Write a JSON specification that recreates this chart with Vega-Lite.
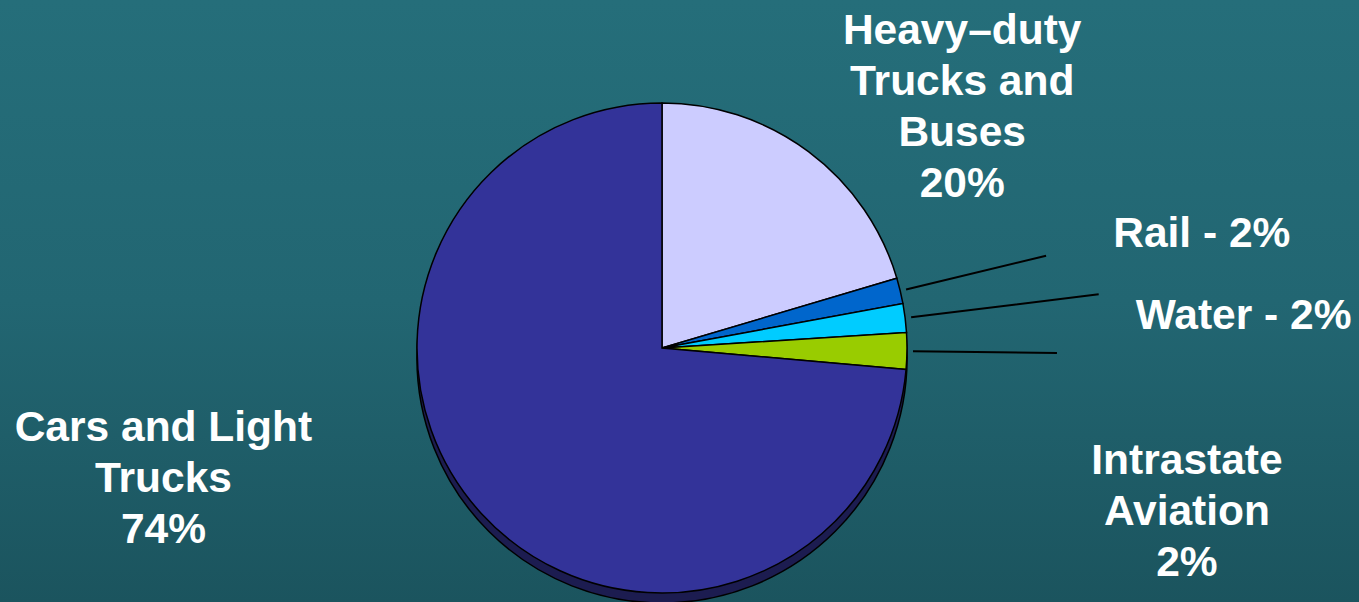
{
  "$schema": "https://vega.github.io/schema/vega-lite/v6.json",
  "width": 1359,
  "height": 602,
  "autosize": {"type": "none"},
  "padding": 0,
  "background": "#21646F",
  "view": {
    "stroke": null,
    "fill": {"gradient": "linear", "x1": 0, "y1": 0, "x2": 0, "y2": 1,
      "stops": [{"offset": 0, "color": "#256E7A"}, {"offset": 0.5, "color": "#226672"}, {"offset": 1, "color": "#1B545E"}]}
  },
  "config": {
    "text": {"font": "Liberation Sans", "fontWeight": "bold", "fontSize": 42.5, "fill": "#FFFFFF", "lineHeight": 51, "align": "center", "baseline": "middle", "lineBreak": "\n"}
  },
  "data": {
    "values": [
      {"cat": "Heavy-duty Trucks and Buses", "ord": 1, "value": 20.4, "label": "Heavy–duty\nTrucks and\nBuses\n20%"},
      {"cat": "Rail", "ord": 2, "value": 1.7, "label": "Rail - 2%"},
      {"cat": "Water", "ord": 3, "value": 1.9, "label": "Water - 2%"},
      {"cat": "Intrastate Aviation", "ord": 4, "value": 2.4, "label": "Intrastate\nAviation\n2%"},
      {"cat": "Cars and Light Trucks", "ord": 5, "value": 73.6, "label": "Cars and Light\nTrucks\n74%"}
    ]
  },
  "layer": [
    {
      "transform": [{"aggregate": [{"op": "sum", "field": "value", "as": "value"}]}],
      "mark": {"type": "arc", "outerRadius": 245, "fill": "#1C1C50", "stroke": "#000000", "strokeWidth": 1.5, "xOffset": -17.5, "yOffset": 57},
      "encoding": {"theta": {"field": "value", "type": "quantitative", "stack": true}}
    },
    {
      "mark": {"type": "arc", "outerRadius": 245, "stroke": "#000000", "strokeWidth": 1.5, "xOffset": -17.5, "yOffset": 47},
      "encoding": {
        "theta": {"field": "value", "type": "quantitative", "stack": true},
        "order": {"field": "ord", "type": "quantitative"},
        "color": {"field": "cat", "type": "nominal", "legend": null,
          "scale": {"domain": ["Heavy-duty Trucks and Buses", "Rail", "Water", "Intrastate Aviation", "Cars and Light Trucks"],
                    "range": ["#CCCCFF", "#0066CC", "#00CCFF", "#99CC00", "#333399"]}}
      }
    },
    {
      "mark": {"type": "arc", "innerRadius": 251, "outerRadius": 395, "padAngle": 3, "fillOpacity": 0, "stroke": "#000000", "strokeWidth": 2, "xOffset": -17.5, "yOffset": 47},
      "encoding": {
        "theta": {"field": "value", "type": "quantitative", "stack": true},
        "order": {"field": "ord", "type": "quantitative"},
        "strokeOpacity": {"condition": {"test": "datum.cat === 'Rail' || datum.cat === 'Intrastate Aviation'", "value": 1}, "value": 0}
      }
    },
    {
      "mark": {"type": "arc", "innerRadius": 251, "outerRadius": 440, "padAngle": 3, "fillOpacity": 0, "stroke": "#000000", "strokeWidth": 2, "xOffset": -17.5, "yOffset": 47},
      "encoding": {
        "theta": {"field": "value", "type": "quantitative", "stack": true},
        "order": {"field": "ord", "type": "quantitative"},
        "strokeOpacity": {"condition": {"test": "datum.cat === 'Water'", "value": 1}, "value": 0}
      }
    },
    {
      "mark": {"type": "text", "radius": 385, "dx": 70, "dy": -8, "xOffset": -17.5, "yOffset": 47},
      "encoding": {
        "theta": {"field": "value", "type": "quantitative", "stack": true},
        "order": {"field": "ord", "type": "quantitative"},
        "text": {"condition": {"test": "datum.cat === 'Heavy-duty Trucks and Buses'", "field": "label"}, "value": ""}
      }
    },
    {
      "mark": {"type": "text", "radius": 551, "dx": 4, "dy": 15, "xOffset": -17.5, "yOffset": 47},
      "encoding": {
        "theta": {"field": "value", "type": "quantitative", "stack": true},
        "order": {"field": "ord", "type": "quantitative"},
        "text": {"condition": {"test": "datum.cat === 'Rail'", "field": "label"}, "value": ""}
      }
    },
    {
      "mark": {"type": "text", "radius": 582, "dx": 4, "dy": 39, "xOffset": -17.5, "yOffset": 47},
      "encoding": {
        "theta": {"field": "value", "type": "quantitative", "stack": true},
        "order": {"field": "ord", "type": "quantitative"},
        "text": {"condition": {"test": "datum.cat === 'Water'", "field": "label"}, "value": ""}
      }
    },
    {
      "mark": {"type": "text", "radius": 550, "dx": -25, "dy": 106, "xOffset": -17.5, "yOffset": 47},
      "encoding": {
        "theta": {"field": "value", "type": "quantitative", "stack": true},
        "order": {"field": "ord", "type": "quantitative"},
        "text": {"condition": {"test": "datum.cat === 'Intrastate Aviation'", "field": "label"}, "value": ""}
      }
    },
    {
      "mark": {"type": "text", "radius": 516, "dx": -118, "dy": -268, "xOffset": -17.5, "yOffset": 47},
      "encoding": {
        "theta": {"field": "value", "type": "quantitative", "stack": true},
        "order": {"field": "ord", "type": "quantitative"},
        "text": {"condition": {"test": "datum.cat === 'Cars and Light Trucks'", "field": "label"}, "value": ""}
      }
    }
  ]
}
